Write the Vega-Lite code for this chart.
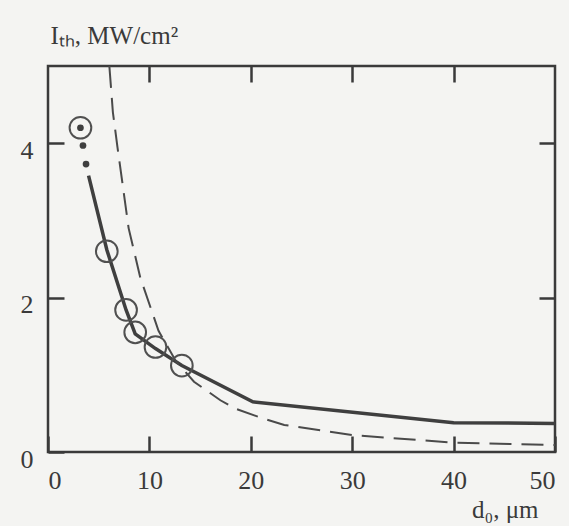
{
  "$schema": "https://vega.github.io/schema/vega-lite/v6.json",
  "autosize": {"type": "none"},
  "padding": {"left": 48, "top": 66, "right": 14, "bottom": 74},
  "width": 507,
  "height": 386,
  "background": "#f4f4f2",
  "config": {
    "view": {"stroke": "#3a3a3a", "strokeWidth": 2.5},
    "axis": {
      "grid": false,
      "domain": false,
      "tickColor": "#3a3a3a",
      "tickWidth": 2.5,
      "tickSize": -16,
      "labelFont": "Liberation Serif",
      "labelFontSize": 26,
      "labelColor": "#3a3a3a",
      "titleFont": "Liberation Serif",
      "titleFontSize": 25,
      "titleFontWeight": "normal",
      "titleColor": "#3a3a3a"
    }
  },
  "data": {
    "values": [
      {"series": "solid", "o": 1, "d": 4.0, "I": 3.58},
      {"series": "solid", "o": 2, "d": 5.8, "I": 2.62},
      {"series": "solid", "o": 3, "d": 7.7, "I": 1.84},
      {"series": "solid", "o": 4, "d": 8.6, "I": 1.53},
      {"series": "solid", "o": 5, "d": 10.6, "I": 1.34},
      {"series": "solid", "o": 6, "d": 13.2, "I": 1.12},
      {"series": "solid", "o": 7, "d": 20.2, "I": 0.65},
      {"series": "solid", "o": 8, "d": 40, "I": 0.38},
      {"series": "solid", "o": 9, "d": 50, "I": 0.37},
      {"series": "dashed", "o": 1, "d": 6.05, "I": 5.0},
      {"series": "dashed", "o": 2, "d": 6.4, "I": 4.4},
      {"series": "dashed", "o": 3, "d": 6.85, "I": 3.95},
      {"series": "dashed", "o": 4, "d": 7.95, "I": 2.9},
      {"series": "dashed", "o": 5, "d": 9.1, "I": 2.26},
      {"series": "dashed", "o": 6, "d": 10.9, "I": 1.57},
      {"series": "dashed", "o": 7, "d": 12.6, "I": 1.18},
      {"series": "dashed", "o": 8, "d": 14.4, "I": 0.91},
      {"series": "dashed", "o": 9, "d": 17.0, "I": 0.67},
      {"series": "dashed", "o": 10, "d": 18.5, "I": 0.56},
      {"series": "dashed", "o": 11, "d": 21.3, "I": 0.43},
      {"series": "dashed", "o": 12, "d": 23.3, "I": 0.35},
      {"series": "dashed", "o": 13, "d": 30, "I": 0.22},
      {"series": "dashed", "o": 14, "d": 40, "I": 0.12},
      {"series": "dashed", "o": 15, "d": 50, "I": 0.09},
      {"series": "exp", "o": 1, "d": 3.2, "I": 4.2},
      {"series": "exp", "o": 2, "d": 5.8, "I": 2.6},
      {"series": "exp", "o": 3, "d": 7.7, "I": 1.84},
      {"series": "exp", "o": 4, "d": 8.6, "I": 1.55},
      {"series": "exp", "o": 5, "d": 10.6, "I": 1.36},
      {"series": "exp", "o": 6, "d": 13.2, "I": 1.12},
      {"series": "dot", "o": 1, "d": 3.2, "I": 4.2},
      {"series": "dot", "o": 2, "d": 3.45, "I": 3.97},
      {"series": "dot", "o": 3, "d": 3.75, "I": 3.73}
    ]
  },
  "encoding": {
    "x": {
      "field": "d", "type": "quantitative",
      "scale": {"domain": [0, 50], "nice": false, "zero": false},
      "axis": null
    },
    "y": {
      "field": "I", "type": "quantitative",
      "scale": {"domain": [0, 5], "nice": false, "zero": false},
      "axis": null
    }
  },
  "layer": [
    {
      "mark": {"type": "line", "color": "#3f3f3f", "strokeWidth": 3.5, "clip": true},
      "transform": [{"filter": "datum.series == 'solid'"}],
      "encoding": {
        "order": {"field": "o", "type": "quantitative"},
        "x": {
          "field": "d", "type": "quantitative",
          "scale": {"domain": [0, 50], "nice": false, "zero": false},
          "axis": {
            "orient": "bottom",
            "values": [0, 10, 20, 30, 40, 50],
            "labelFont": "Liberation Serif",
            "labelPadding": 31,
            "title": "d₀, μm",
            "titleAngle": 0,
            "titleAlign": "right",
            "titleBaseline": "alphabetic",
            "titleX": 490,
            "titleY": 65
          }
        },
        "y": {
          "field": "I", "type": "quantitative",
          "scale": {"domain": [0, 5], "nice": false, "zero": false},
          "axis": {
            "orient": "left",
            "values": [0, 2, 4],
            "labelFont": "Liberation Serif",
            "labelPadding": 31,
            "labelOffset": 7,
            "title": "Iₜₕ, MW/cm²",
            "titleAngle": 0,
            "titleAlign": "left",
            "titleBaseline": "alphabetic",
            "titleX": 2,
            "titleY": -23
          }
        }
      }
    },
    {
      "mark": {"type": "line", "color": "#4a4a4a", "strokeWidth": 2, "strokeDash": [22, 10], "clip": true},
      "transform": [{"filter": "datum.series == 'dashed'"}],
      "encoding": {
        "order": {"field": "o", "type": "quantitative"},
        "x": {
          "field": "d", "type": "quantitative",
          "scale": {"domain": [0, 50], "nice": false, "zero": false},
          "axis": {"orient": "top", "values": [10, 20, 30, 40], "labels": false, "title": null}
        },
        "y": {
          "field": "I", "type": "quantitative",
          "scale": {"domain": [0, 5], "nice": false, "zero": false},
          "axis": {"orient": "right", "values": [2, 4], "labels": false, "title": null}
        }
      }
    },
    {
      "mark": {"type": "point", "shape": "circle", "filled": false, "size": 470, "stroke": "#505050", "strokeWidth": 2, "opacity": 1},
      "transform": [{"filter": "datum.series == 'exp'"}]
    },
    {
      "mark": {"type": "point", "shape": "circle", "filled": true, "size": 45, "color": "#3f3f3f", "opacity": 1},
      "transform": [{"filter": "datum.series == 'dot'"}]
    }
  ],
  "resolve": {"axis": {"x": "independent", "y": "independent"}}
}
